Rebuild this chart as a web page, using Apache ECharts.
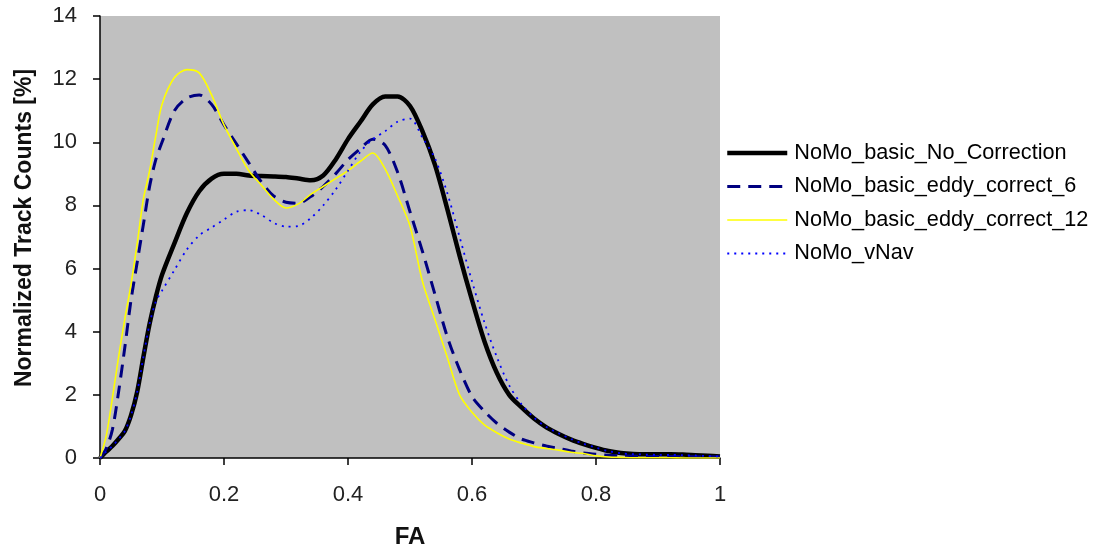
<!DOCTYPE html>
<html>
<head>
<meta charset="utf-8">
<script src="https://cdn.jsdelivr.net/npm/echarts@6/dist/echarts.min.js"></script>
<style>
html,body{margin:0;padding:0;background:#fff;}
#chart{width:1099px;height:550px;}
</style>
</head>
<body>
<div id="chart"></div>
<script>
var FA = [0,0.01,0.02,0.03,0.04,0.05,0.06,0.07,0.08,0.09,0.10,
  0.12,0.14,0.16,0.18,0.20,0.22,0.24,0.26,0.28,0.30,0.32,0.34,0.36,0.38,0.40,
  0.42,0.44,0.46,0.48,0.50,0.52,0.54,0.56,0.58,0.60,0.62,0.64,0.66,0.68,0.70,
  0.72,0.74,0.76,0.78,0.80,0.82,0.84,0.86,0.88,0.90,0.92,0.94,0.96,0.98,1.00];

var noCorrection = [0,0.2,0.38,0.6,0.85,1.35,2.1,3.2,4.25,5.1,5.8,
  6.8,7.75,8.45,8.85,9.0,9.0,8.95,8.93,8.92,8.9,8.85,8.8,8.95,9.45,10.1,
  10.65,11.2,11.45,11.45,11.15,10.35,9.3,7.9,6.4,5.0,3.7,2.7,2.0,1.6,1.25,
  0.97,0.76,0.58,0.44,0.32,0.22,0.16,0.13,0.12,0.12,0.12,0.11,0.09,0.07,0.05];

var eddy6 = [0,0.3,0.9,2.1,3.5,5.0,6.2,7.4,8.6,9.45,10.0,
  11.0,11.4,11.5,11.2,10.55,9.95,9.35,8.75,8.3,8.1,8.07,8.28,8.6,9.0,9.45,
  9.8,10.1,9.9,9.05,7.8,6.55,5.2,3.85,2.8,1.95,1.48,1.1,0.82,0.6,0.48,
  0.38,0.3,0.22,0.16,0.12,0.09,0.07,0.06,0.05,0.05,0.05,0.05,0.04,0.04,0.04];

var eddy12 = [0,0.7,1.9,3.2,4.4,5.5,6.8,8.2,9.1,10.2,11.2,
  12.05,12.3,12.2,11.5,10.55,9.8,9.1,8.65,8.2,7.92,8.05,8.35,8.6,8.85,9.1,
  9.4,9.66,9.15,8.3,7.35,5.6,4.4,3.2,2.0,1.45,1.05,0.8,0.6,0.47,0.36,
  0.3,0.25,0.18,0.14,0.07,0.03,0.02,0.01,0.01,0.01,0.01,0,0,0,0];

var vNav = [0,0.2,0.38,0.6,0.85,1.35,2.1,3.2,4.25,4.95,5.3,
  5.95,6.6,7.05,7.3,7.55,7.8,7.85,7.7,7.45,7.33,7.35,7.6,8.0,8.5,9.1,
  9.7,10.1,10.35,10.65,10.75,10.15,9.5,8.4,7.0,5.6,4.3,3.2,2.3,1.7,1.28,
  0.98,0.78,0.6,0.45,0.33,0.22,0.15,0.12,0.11,0.1,0.1,0.09,0.08,0.06,0.05];

var seriesNames = ['NoMo_basic_No_Correction','NoMo_basic_eddy_correct_6','NoMo_basic_eddy_correct_12','NoMo_vNav'];
var xTicks = [0,0.2,0.4,0.6,0.8,1];
var yTicks = [0,2,4,6,8,10,12,14];

function pairs(ys){ return FA.map(function(x,i){ return [x, ys[i]]; }); }

var chart = echarts.init(document.getElementById('chart'), null, {renderer:'canvas'});
var font = 'Liberation Sans, Arial, sans-serif';
var styles = [
  {color:'#000000', width:4.5, type:'solid'},
  {color:'#000080', width:3, type:[13,8]},
  {color:'#ffff00', width:1.6, type:'solid'},
  {color:'#0000ff', width:1.8, type:[2,5]}
];
var option = {
  animation: false,
  backgroundColor: '#ffffff',
  grid: {left:100, right:379, top:16, bottom:92, show:true, backgroundColor:'#c0c0c0', borderWidth:0,
         containLabel:false, outerBoundsMode:'none'},
  xAxis: {
    type:'value', min:0, max:1, interval:0.2,
    name:'FA', nameLocation:'middle', nameGap:67,
    nameTextStyle:{fontFamily:font, fontSize:24, fontWeight:'bold', color:'#111'},
    axisLine:{show:true, onZero:false, lineStyle:{color:'#000', width:1.5}},
    axisTick:{show:true, inside:false, length:7, lineStyle:{color:'#000', width:1.5}},
    axisLabel:{fontFamily:font, fontSize:22, color:'#222', margin:26,
      formatter:function(v){ return String(+v.toFixed(1)); }},
    splitLine:{show:false}
  },
  yAxis: {
    type:'value', min:0, max:14, interval:2,
    name:'Normalized Track Counts [%]', nameLocation:'middle', nameGap:64,
    nameTextStyle:{fontFamily:font, fontSize:23, fontWeight:'bold', color:'#111', padding:[0,0,0,18]},
    axisLine:{show:true, lineStyle:{color:'#000', width:1.5}},
    axisTick:{show:true, inside:false, length:7, lineStyle:{color:'#000', width:1.5}},
    axisLabel:{fontFamily:font, fontSize:22, color:'#222', margin:23},
    splitLine:{show:false}
  },
  legend: {
    orient:'vertical', left:725, top:142, padding:0,
    itemWidth:60, itemHeight:14, itemGap:11.5,
    itemStyle:{opacity:0},
    textStyle:{fontFamily:font, fontSize:21.7, color:'#000', padding:[0,0,0,2]},
    data: seriesNames.map(function(n,i){
      return {name:n, lineStyle:{color:styles[i].color, width:styles[i].width, type:styles[i].type}};
    })
  },
  series: seriesNames.map(function(n,i){
    var d = [noCorrection, eddy6, eddy12, vNav][i];
    return {name:n, type:'line', data:pairs(d), symbol:'none', smooth:0.3,
      lineStyle:{color:styles[i].color, width:styles[i].width, type:styles[i].type},
      itemStyle:{color:styles[i].color}, z:2+i};
  })
};
chart.setOption(option);
</script>
</body>
</html>
